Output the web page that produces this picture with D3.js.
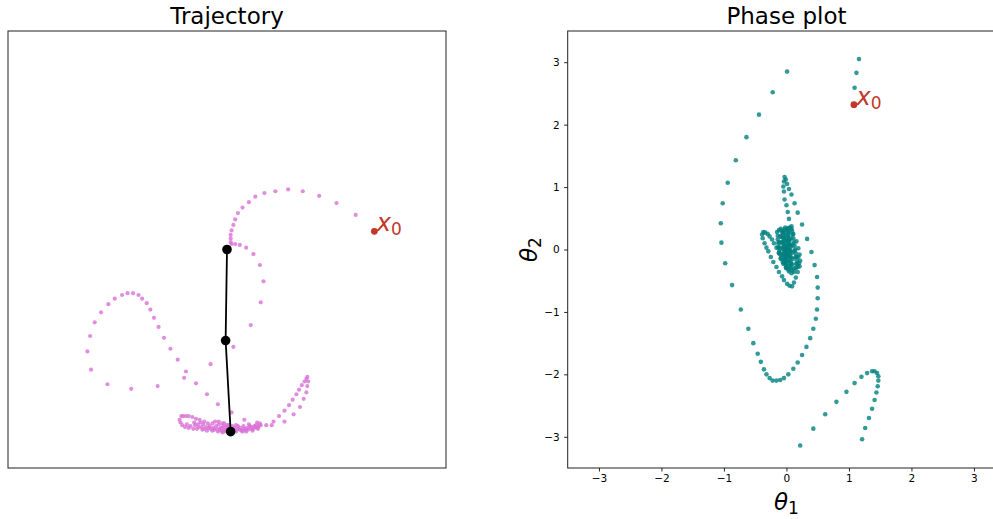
<!DOCTYPE html>
<html><head><meta charset="utf-8">
<script src="https://cdn.jsdelivr.net/npm/d3@7"></script>
<style>
body{margin:0;background:#fff;overflow:hidden}
text{font-family:"DejaVu Sans",sans-serif}
</style>
</head><body>
<svg id="chart" width="993" height="519"></svg>
<script>
// ---------- data ----------
// Tip of the double pendulum (x, y), pendulum lengths = 1
const trajPoints = [
  [1.41,0.38],[1.20,0.51],[1.01,0.59],[0.83,0.64],[0.67,0.66],[0.53,0.64],[0.41,0.62],[0.31,0.58],
  [0.24,0.52],[0.17,0.46],[0.12,0.40],[0.09,0.33],[0.07,0.27],[0.05,0.21],[0.04,0.16],[0.04,0.12],
  [0.04,0.08],[0.05,0.06],[0.09,0.06],[0.14,0.05],[0.21,0.02],[0.29,-0.05],[0.36,-0.17],[0.40,-0.35],
  [0.37,-0.58],[0.26,-0.83],[0.07,-1.07],[-0.18,-1.26],[-0.45,-1.34],[-0.54,-1.21],[-0.62,-1.09],
  [-0.69,-0.97],[-0.75,-0.85],[-0.80,-0.75],[-0.84,-0.66],[-0.88,-0.59],[-0.93,-0.54],[-0.97,-0.50],
  [-1.03,-0.48],[-1.09,-0.48],[-1.15,-0.50],[-1.23,-0.54],[-1.30,-0.60],[-1.38,-0.69],[-1.45,-0.80],
  [-1.50,-0.95],[-1.53,-1.12],[-1.49,-1.32],[-1.31,-1.48],[-1.05,-1.53],[-0.76,-1.50],[-0.47,-1.41],
  [-0.34,-1.47],[-0.22,-1.59],[-0.10,-1.70],[0.05,-1.79],[0.19,-1.87],
  // right hook
  [0.43,-1.93],[0.49,-1.93],[0.51,-1.89],[0.57,-1.83],[0.63,-1.77],[0.68,-1.71],[0.72,-1.65],[0.76,-1.59],
  [0.79,-1.54],[0.82,-1.49],[0.85,-1.45],[0.87,-1.42],[0.88,-1.40],[0.89,-1.45],[0.88,-1.50],[0.87,-1.57],
  [0.84,-1.64],[0.80,-1.73],[0.73,-1.81],[0.63,-1.89],
  // settling cluster near the bottom
  [-0.50,-1.83],[-0.48,-1.83],[-0.45,-1.83],[-0.42,-1.83],[-0.38,-1.84],[-0.34,-1.86],[-0.30,-1.87],
  [-0.25,-1.89],[-0.21,-1.91],[-0.52,-1.87],[-0.51,-1.90],[-0.49,-1.93],[-0.46,-1.95],[-0.42,-1.96],
  [-0.37,-1.97],[-0.33,-1.97],[-0.27,-1.98],[-0.22,-1.99],[-0.16,-1.99],[-0.10,-2.00],[-0.03,-2.00],
  [0.03,-2.00],[0.10,-2.00],[0.16,-1.99],[0.23,-1.98],[0.29,-1.97],[0.33,-1.96],[0.35,-1.94],[0.36,-1.91],
  [-0.19,-1.94],[-0.16,-1.91],[-0.13,-1.89],[-0.09,-1.89],[-0.05,-1.91],[-0.04,-1.94],[-0.07,-1.96],
  [-0.11,-1.97],[-0.15,-1.96],[-0.12,-1.94],[-0.09,-1.92],[-0.03,-1.91],[0.00,-1.93],[0.01,-1.96],
  [-0.02,-1.98],[-0.08,-1.98],[0.08,-1.96],[0.12,-1.94],[0.18,-1.94],[0.22,-1.96],[0.25,-1.94],
  [0.30,-1.94],[0.05,-1.98],[0.12,-1.97],[0.19,-1.97],[0.26,-1.97],[-0.01,-1.99],[0.07,-1.99],
  [-0.26,-1.92],[-0.23,-1.95],[-0.29,-1.90],[-0.18,-1.97],[0.14,-1.98],[0.31,-1.95],
  [-0.28,-1.95],[-0.20,-1.96],[-0.14,-1.98],[-0.06,-1.99],[0.00,-1.99],[0.04,-1.97],[0.09,-1.98],
  [0.15,-1.96],[0.20,-1.98],[0.27,-1.95],[0.32,-1.93],[0.34,-1.97],[-0.05,-1.96],[-0.01,-1.95],
  [0.02,-1.93],[0.06,-1.94],[0.10,-1.93],[-0.25,-1.97],[-0.31,-1.95],[-0.35,-1.93],[0.28,-1.99],
  [0.21,-2.00],[-0.05,-2.01],[0.01,-2.01],[-0.40,-1.94],[-0.44,-1.92],[-0.36,-1.90],[-0.32,-1.92],
  [0.24,-1.92],[0.33,-1.90],[0.37,-1.93],[0.17,-2.00]
];
const trajStart = [1.615, 0.20];
// Final pendulum: pivot, first bob, second bob
const pendulumX = [0, -0.015, 0.04];
const pendulumY = [0, -1.0, -2.0];

// Phase plot (theta1, theta2)
const phasePoints = [
  [1.09,2.59],[1.12,2.83],[1.16,3.05],
  [1.21,-3.04],[1.26,-2.86],[1.32,-2.70],[1.37,-2.55],[1.41,-2.41],[1.44,-2.29],[1.46,-2.19],[1.47,-2.10],
  [1.47,-2.03],[1.45,-1.98],[1.41,-1.95],[1.37,-1.95],[1.29,-1.98],[1.20,-2.04],[1.09,-2.14],[0.96,-2.28],
  [0.80,-2.44],[0.62,-2.64],[0.43,-2.87],[0.22,-3.14],
  [0.01,2.85],[-0.22,2.52],[-0.44,2.16],[-0.64,1.80],[-0.81,1.43],[-0.94,1.07],[-1.02,0.74],[-1.05,0.42],
  [-1.04,0.11],[-0.98,-0.22],[-0.87,-0.57],[-0.73,-0.96],[-0.61,-1.27],[-0.53,-1.50],[-0.46,-1.67],
  [-0.41,-1.80],[-0.36,-1.92],[-0.32,-2.00],[-0.27,-2.06],[-0.22,-2.10],[-0.16,-2.10],[-0.10,-2.09],
  [-0.04,-2.06],[0.03,-2.00],[0.11,-1.91],[0.18,-1.81],[0.25,-1.69],[0.32,-1.56],[0.38,-1.42],[0.43,-1.27],
  [0.47,-1.11],[0.49,-0.96],[0.50,-0.78],[0.50,-0.61],[0.49,-0.44],[0.45,-0.25],[0.40,-0.04],[0.33,0.17],
  [0.25,0.40],[0.18,0.59],[0.13,0.74],[0.08,0.88],[0.04,0.97],[0.01,1.05],[-0.01,1.12],[-0.03,1.16],
  [-0.04,1.09],[-0.05,1.01],[-0.04,0.93],[-0.03,0.80],[0.00,0.71],[0.02,0.60],[0.04,0.49],[0.08,0.37],
  [0.11,0.25],[0.16,0.13],
  // inner spiral
  [0.19,0.02],[0.21,-0.08],[0.22,-0.18],[0.21,-0.27],[0.18,-0.36],[0.15,-0.45],[0.12,-0.53],[0.09,-0.59],
  [0.05,-0.58],[0.01,-0.55],[-0.04,-0.49],[-0.07,-0.43],[-0.12,-0.36],[-0.16,-0.28],[-0.21,-0.20],
  [-0.25,-0.12],[-0.29,-0.03],[-0.32,0.03],[-0.35,0.10],[-0.38,0.18],[-0.39,0.24],[-0.37,0.28],
  [-0.34,0.27],[-0.30,0.25],[-0.27,0.21],[-0.23,0.16],[-0.20,0.10],[-0.16,0.03],[-0.12,-0.05],
  [-0.08,-0.13],[-0.04,-0.21],[0.00,-0.29],[0.04,-0.35],[0.08,-0.38],[0.12,-0.36],[0.15,-0.30],
  [0.16,-0.22],[0.15,-0.12],[0.13,-0.02],[0.10,0.08],[0.07,0.18],[0.04,0.27],[0.01,0.32],[-0.03,0.32],
  [-0.07,0.28],[-0.10,0.21],[-0.12,0.12],[-0.13,0.03],[-0.12,-0.06],[-0.09,-0.15],[-0.05,-0.23],
  [-0.01,-0.29],[0.03,-0.32],[0.07,-0.30],[0.10,-0.24],[0.11,-0.15],[0.10,-0.05],[0.08,0.05],[0.05,0.14],
  [0.02,0.22],[-0.01,0.27],[-0.05,0.26],[-0.08,0.20],[-0.09,0.11],[-0.09,0.02],[-0.07,-0.08],[-0.04,-0.17],
  [0.00,-0.23],[0.04,-0.26],[0.07,-0.22],[0.08,-0.13],[0.07,-0.03],[0.05,0.07],[0.02,0.15],[-0.01,0.21],
  [-0.04,0.19],[-0.06,0.12],[-0.06,0.03],[-0.05,-0.06],[-0.02,-0.14],[0.01,-0.19],[0.04,-0.18],[0.05,-0.10],
  [0.05,-0.01],[0.03,0.08],[0.01,0.14],[-0.02,0.14],[-0.04,0.08],[-0.04,0.00],[-0.02,-0.08],[0.00,-0.12],
  [0.03,-0.11],[0.03,-0.04],[0.02,0.04],[0.00,0.08],[-0.02,0.05],[-0.02,-0.01],[-0.01,-0.06],[0.01,-0.06],
  [0.01,-0.01],[0.00,0.03],[-0.01,0.01],[0.00,-0.02],
  // dense strokes of the inner cluster
  [-0.15,0.28],[-0.14,0.22],[-0.14,0.16],[-0.13,0.10],[-0.12,0.04],[-0.11,-0.02],[-0.10,-0.08],[-0.09,-0.14],
  [-0.06,0.30],[-0.06,0.24],[-0.05,0.18],[-0.05,0.12],[-0.04,0.06],[-0.04,0.00],[-0.03,-0.06],[-0.03,-0.12],
  [-0.02,-0.18],[-0.01,-0.24],[0.02,0.34],[0.03,0.28],[0.03,0.22],[0.04,0.16],[0.04,0.10],[0.05,0.04],
  [0.05,-0.02],[0.06,-0.08],[0.06,-0.14],[0.07,-0.20],[0.07,-0.26],[0.09,0.30],[0.10,0.24],[0.11,0.18],
  [0.12,0.12],[0.13,0.06],[0.14,0.00],[0.15,-0.06],[0.16,-0.12],[0.17,-0.18],[0.17,-0.24],
  [-0.12,0.31],[-0.09,0.33],[-0.02,0.35],[0.05,0.35],[0.08,0.33],[-0.06,-0.20],[0.00,-0.30],
  [0.09,-0.33],[0.13,-0.30],[0.19,-0.12],[0.20,-0.22],[0.18,-0.28]
];
const phaseStart = [1.08, 2.32];
const phaseTicks = [-3, -2, -1, 0, 1, 2, 3];
const titles = ["Trajectory", "Phase plot"];

// ---------- drawing ----------
const svg = d3.select("#chart");
const startColor = "#c0392b";

// Left panel
const L = {x: 8, y: 31, w: 438, h: 437};
const lx = d3.scaleLinear().domain([-2.4, 2.4]).range([L.x, L.x + L.w]);
const ly = d3.scaleLinear().domain([-2.4, 2.4]).range([L.y + L.h, L.y]);
const gl = svg.append("g");
gl.append("rect").attr("x", L.x).attr("y", L.y).attr("width", L.w).attr("height", L.h)
  .attr("fill", "none").attr("stroke", "#222").attr("stroke-width", 1);
gl.append("g").selectAll("circle").data(trajPoints).join("circle")
  .attr("cx", d => lx(d[0])).attr("cy", d => ly(d[1])).attr("r", 2.1)
  .attr("fill", "orchid").attr("fill-opacity", 0.8);
const pend = pendulumX.map((v, i) => [v, pendulumY[i]]);
gl.append("path").datum(pend)
  .attr("d", d3.line().x(d => lx(d[0])).y(d => ly(d[1])))
  .attr("fill", "none").attr("stroke", "#000").attr("stroke-width", 1.8);
gl.append("g").selectAll("circle").data(pend).join("circle")
  .attr("cx", d => lx(d[0])).attr("cy", d => ly(d[1])).attr("r", 4.8).attr("fill", "#000");
gl.append("text").attr("x", L.x + L.w / 2).attr("y", 24).attr("text-anchor", "middle")
  .attr("font-size", 23).text(titles[0]);

function startMarker(g, px, py) {
  g.append("circle").attr("cx", px).attr("cy", py).attr("r", 3.4).attr("fill", startColor);
  const t = g.append("text").attr("x", px + 2.5).attr("y", py).attr("fill", startColor);
  t.append("tspan").attr("font-size", 24).attr("font-style", "italic").text("x");
  t.append("tspan").attr("font-size", 17).attr("dy", 4).text("0");
}
startMarker(gl, lx(trajStart[0]), ly(trajStart[1]));

// Right panel
const R = {x: 567.7, y: 31, w: 437.5, h: 437};
const rx = d3.scaleLinear().domain([-3.5, 3.5]).range([R.x, R.x + R.w]);
const ry = d3.scaleLinear().domain([-3.5, 3.5]).range([R.y + R.h, R.y]);
const gr = svg.append("g");
gr.append("g").selectAll("circle").data(phasePoints).join("circle")
  .attr("cx", d => rx(d[0])).attr("cy", d => ry(d[1])).attr("r", 2.3)
  .attr("fill", "teal").attr("fill-opacity", 0.8);
startMarker(gr, rx(phaseStart[0]), ry(phaseStart[1]));

const fmt = d3.format("d");
const xAxis = gr.append("g").attr("transform", `translate(0,${R.y + R.h})`)
  .call(d3.axisBottom(rx).tickValues(phaseTicks).tickFormat(fmt).tickSize(3.5).tickPadding(3.5));
const yAxis = gr.append("g").attr("transform", `translate(${R.x},0)`)
  .call(d3.axisLeft(ry).tickValues(phaseTicks).tickFormat(fmt).tickSize(3.5).tickPadding(4.5));
[xAxis, yAxis].forEach(a => {
  a.select(".domain").remove();
  a.selectAll("line").attr("stroke", "#222");
  a.selectAll("text").attr("font-size", 10.5).attr("fill", "#000")
    .attr("font-family", "DejaVu Sans, sans-serif");
});
gr.append("rect").attr("x", R.x).attr("y", R.y).attr("width", R.w).attr("height", R.h)
  .attr("fill", "none").attr("stroke", "#222").attr("stroke-width", 1);
gr.append("text").attr("x", R.x + R.w / 2).attr("y", 24).attr("text-anchor", "middle")
  .attr("font-size", 23).text(titles[1]);

const xl = gr.append("text").attr("x", R.x + R.w / 2).attr("y", 510).attr("text-anchor", "middle");
xl.append("tspan").attr("font-size", 23).attr("font-style", "italic").text("θ");
xl.append("tspan").attr("font-size", 17).attr("dy", 4).text("1");
const yl = gr.append("text").attr("transform", `translate(537,${R.y + R.h / 2}) rotate(-90)`)
  .attr("text-anchor", "middle");
yl.append("tspan").attr("font-size", 23).attr("font-style", "italic").text("θ");
yl.append("tspan").attr("font-size", 17).attr("dy", 4).text("2");
</script>
</body></html>
